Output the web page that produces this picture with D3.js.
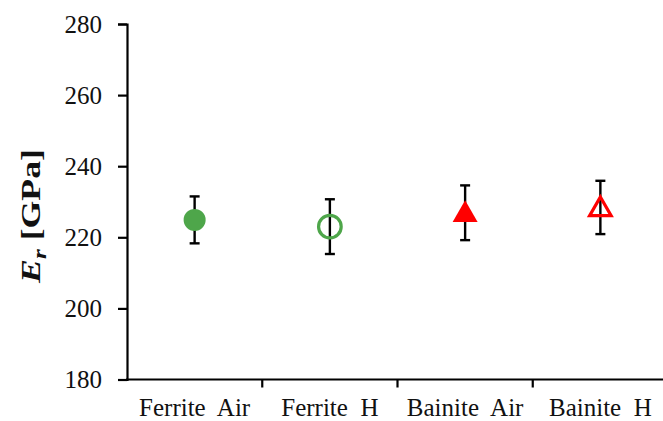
<!DOCTYPE html>
<html>
<head>
<meta charset="utf-8">
<script src="https://cdn.jsdelivr.net/npm/d3@7"></script>
<style>
  html, body { margin: 0; padding: 0; background: #fff; }
  svg { display: block; }
</style>
</head>
<body>
<svg id="chart" width="663" height="421"></svg>
<script>
// Reduced modulus per condition
const categories = ["Ferrite  Air", "Ferrite  H", "Bainite  Air", "Bainite  H"];
const meanValues = [224.9, 223.0, 226.9, 228.4];
const errValues  = [6.6, 7.7, 7.7, 7.5];
const markerShapes = ["circle", "circle", "triangle", "triangle"];
const markerFilled = [true, false, true, false];
const markerColors = ["#4ea64a", "#4ea64a", "#ff0000", "#ff0000"];
const yTicks = [180, 200, 220, 240, 260, 280];

const FONT = "'Liberation Serif'";
const svg = d3.select("#chart");
const plotLeft = 127, plotTop = 24, plotBottom = 379.5, plotRight = 668;

const x = d3.scaleBand().domain(categories).range([plotLeft, plotRight]).padding(0);
const y = d3.scaleLinear().domain([180, 280]).range([plotBottom, plotTop]);

// Y axis
const yAxis = svg.append("g")
  .attr("transform", `translate(${plotLeft},0)`)
  .call(d3.axisLeft(y).tickValues(yTicks).tickSize(9).tickPadding(16).tickFormat(d3.format("d")));
yAxis.select(".domain").attr("stroke", "#000").attr("stroke-width", 2.2);
yAxis.selectAll(".tick line").attr("stroke", "#000").attr("stroke-width", 2.2);
yAxis.selectAll(".tick text")
  .style("font-family", FONT).style("font-size", "25px").attr("fill", "#111");

// X axis: ticks at category boundaries, labels at centres
const xAxis = svg.append("g").attr("transform", `translate(0,${plotBottom})`);
xAxis.append("line")
  .attr("x1", plotLeft - 1).attr("x2", plotRight)
  .attr("stroke", "#000").attr("stroke-width", 2.2);
xAxis.selectAll("line.tick")
  .data(categories.slice(1))
  .join("line")
  .attr("class", "tick")
  .attr("x1", d => x(d)).attr("x2", d => x(d))
  .attr("y1", 0).attr("y2", 8)
  .attr("stroke", "#000").attr("stroke-width", 2.2);
xAxis.selectAll("text.label")
  .data(categories)
  .join("text")
  .attr("class", "label")
  .attr("x", d => x(d) + x.bandwidth() / 2)
  .attr("y", 36.5)
  .attr("text-anchor", "middle")
  .attr("fill", "#111")
  .style("font-family", FONT).style("font-size", "25px")
  .style("white-space", "pre")
  .text(d => d);

// Y axis title: E_r [GPa]
const title = svg.append("text")
  .attr("transform", "translate(40,216) rotate(-90)")
  .attr("text-anchor", "middle")
  .attr("fill", "#111")
  .style("font-family", FONT).style("font-size", "27px").style("font-weight", "bold")
  .attr("textLength", 134)
  .attr("lengthAdjust", "spacingAndGlyphs")
  .style("white-space", "pre");
title.append("tspan").style("font-style", "italic").text("E");
title.append("tspan").style("font-style", "italic").style("font-size", "19px").attr("dy", 6).text("r");
title.append("tspan").attr("dy", -6).text(" [GPa]");

// Data rows
const rows = categories.map((c, i) => ({
  c, v: meanValues[i], e: errValues[i],
  shape: markerShapes[i], filled: markerFilled[i], color: markerColors[i]
}));
const cx = d => x(d.c) + x.bandwidth() / 2;

// Error bars
const eb = svg.append("g").attr("stroke", "#000").attr("stroke-width", 2.4);
eb.selectAll("line.stem").data(rows).join("line")
  .attr("class", "stem")
  .attr("x1", cx).attr("x2", cx)
  .attr("y1", d => y(d.v + d.e)).attr("y2", d => y(d.v - d.e));
eb.selectAll("line.capTop").data(rows).join("line")
  .attr("class", "capTop")
  .attr("x1", d => cx(d) - 5).attr("x2", d => cx(d) + 5)
  .attr("y1", d => y(d.v + d.e)).attr("y2", d => y(d.v + d.e));
eb.selectAll("line.capBot").data(rows).join("line")
  .attr("class", "capBot")
  .attr("x1", d => cx(d) - 5).attr("x2", d => cx(d) + 5)
  .attr("y1", d => y(d.v - d.e)).attr("y2", d => y(d.v - d.e));

// Markers
const sym = d3.symbol();
svg.append("g").selectAll("path").data(rows).join("path")
  .attr("transform", d => `translate(${cx(d)},${y(d.v) + (d.shape === "triangle" ? 2 : 0)})`)
  .attr("d", d => {
    if (d.shape === "circle") {
      return d.filled ? sym.type(d3.symbolCircle).size(Math.PI * 11 * 11)()
                      : sym.type(d3.symbolCircle).size(Math.PI * 11.3 * 11.3)();
    }
    return d.filled ? sym.type(d3.symbolTriangle).size(270)()
                    : sym.type(d3.symbolTriangle).size(200)();
  })
  .attr("fill", d => d.filled ? d.color : "none")
  .attr("stroke", d => d.filled ? "none" : d.color)
  .attr("stroke-width", 3.2);
</script>
</body>
</html>
